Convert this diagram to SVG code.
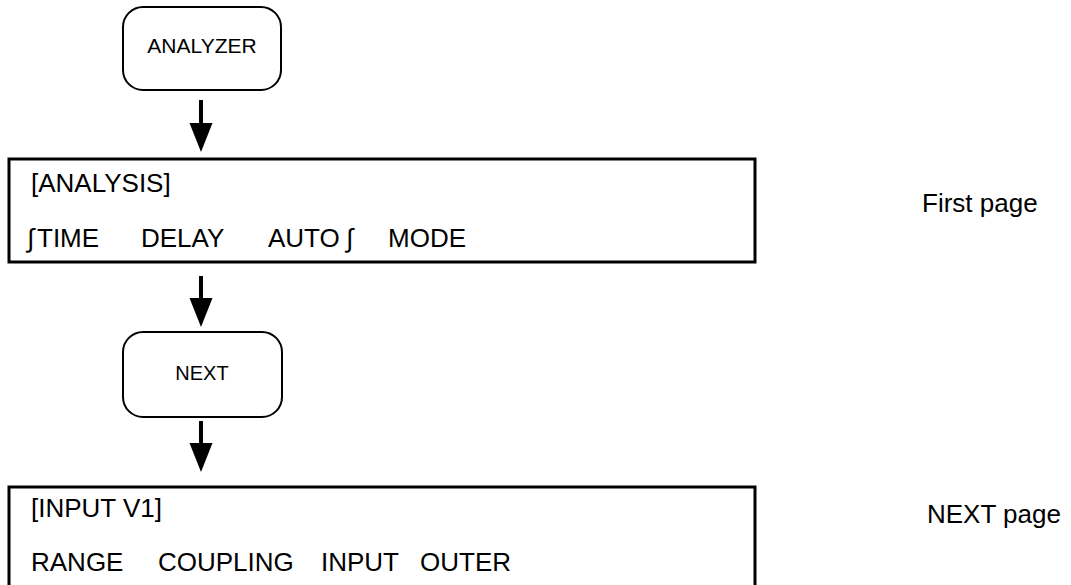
<svg xmlns="http://www.w3.org/2000/svg" width="1071" height="585" viewBox="0 0 1071 585">
<defs>
<style>
.rbox{fill:#fff;stroke:#000;stroke-width:2}
.box{fill:#fff;stroke:#000;stroke-width:3}
.t{font-family:"Liberation Sans",Arial,sans-serif;fill:#000}
.s20{font-size:20px}
.s21{font-size:21px}
.s26{font-size:26px}
.conn{stroke:#000;stroke-width:4;fill:none}
</style>
<marker id="ah" markerUnits="userSpaceOnUse" markerWidth="30" markerHeight="24" viewBox="0 0 30 24" refX="0" refY="12" orient="auto">
<path d="M0,0.5 L29,12 L0,23.5 z" fill="#000"/>
</marker>
</defs>
<rect width="1071" height="585" fill="#fff"/>
<g id="connectors">
<line class="conn" x1="201" y1="100" x2="201" y2="123" marker-end="url(#ah)"/>
<line class="conn" x1="201" y1="276" x2="201" y2="298" marker-end="url(#ah)"/>
<line class="conn" x1="201" y1="421" x2="201" y2="443" marker-end="url(#ah)"/>
</g>
<g id="analyzer">
<rect class="rbox" x="123" y="7" width="158" height="83" rx="20" ry="20"/>
<text class="t s21" x="202" y="53" text-anchor="middle">ANALYZER</text>
</g>
<g id="first-page">
<rect class="box" x="9" y="159" width="746" height="103"/>
<text class="t s26" x="31" y="192">[ANALYSIS]</text>
<text class="t s26" y="247"><tspan x="27">∫</tspan><tspan x="37">TIME</tspan><tspan x="141">DELAY</tspan><tspan x="268">AUTO</tspan><tspan x="346">∫</tspan><tspan x="388">MODE</tspan></text>
</g>
<g id="next">
<rect class="rbox" x="123" y="332" width="159" height="85" rx="20" ry="20"/>
<text class="t s20" x="202" y="380" text-anchor="middle">NEXT</text>
</g>
<g id="next-page">
<rect class="box" x="9" y="487" width="746" height="100"/>
<text class="t s26" x="31" y="517">[INPUT V1]</text>
<text class="t s26" y="571"><tspan x="31">RANGE</tspan><tspan x="158">COUPLING</tspan><tspan x="321">INPUT</tspan><tspan x="420">OUTER</tspan></text>
</g>
<g id="labels">
<text class="t s26" x="922" y="212">First page</text>
<text class="t s26" x="927" y="523">NEXT page</text>
</g>
</svg>
